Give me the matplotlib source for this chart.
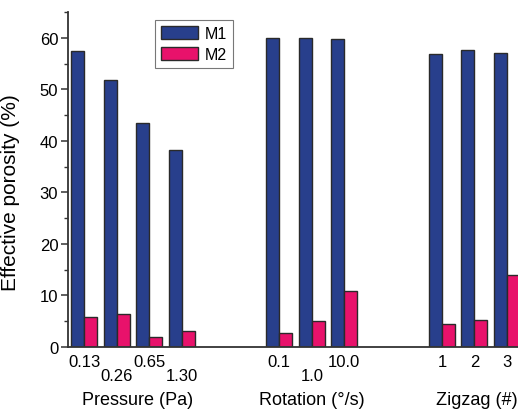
import matplotlib
matplotlib.use('Agg')
import matplotlib.pyplot as plt
from matplotlib.ticker import MultipleLocator

plt.rcParams['font.family'] = ['Liberation Sans', 'DejaVu Sans']

# data
positions = [0, 1, 2, 3, 6, 7, 8, 11, 12, 13]
tickLabels = ['0.13', '0.26', '0.65', '1.30', '0.1', '1.0', '10.0', '1', '2', '3']
lowerRow = [False, True, False, True, False, True, False, False, False, False]
m1 = [57.5, 51.9, 43.5, 38.3, 60.1, 60.1, 59.8, 56.9, 57.6, 57.1]
m2 = [5.7, 6.35, 1.8, 3.0, 2.7, 5.05, 10.8, 4.5, 5.2, 14.0]
groupNames = ['Pressure (Pa)', 'Rotation (\u00b0/s)', 'Zigzag (#)']
groupCenters = [1.65, 7.0, 12.07]

blue = '#283f8c'
pink = '#e8126b'
edge = '#2a2a2a'
width = 0.4

fig = plt.figure(figsize=(5.18, 4.10), dpi=100)
ax = fig.add_axes([68 / 518, 1 - 347.7 / 410, 1 - 68 / 518, (347.7 - 13.3) / 410])

barsM1 = ax.bar([p - width / 2 for p in positions], m1, width, color=blue,
                edgecolor=edge, linewidth=1.0, label='M1')
barsM2 = ax.bar([p + width / 2 for p in positions], m2, width, color=pink,
                edgecolor=edge, linewidth=1.0, label='M2')

ax.set_xlim(-0.5, 13.34)
ax.set_ylim(0, 65)

for side in ['top', 'right']:
    ax.spines[side].set_visible(False)
for side in ['left', 'bottom']:
    ax.spines[side].set_linewidth(1.3)
    ax.spines[side].set_color('#333333')

ax.yaxis.set_major_locator(MultipleLocator(10))
ax.yaxis.set_minor_locator(MultipleLocator(5))
ax.tick_params(axis='y', which='major', length=5, width=1.1, labelsize=12,
               color='#333333', pad=2)
ax.tick_params(axis='y', which='minor', length=3, width=1.0, color='#333333')

ax.set_xticks(positions)
ax.set_xticklabels(tickLabels)
ax.tick_params(axis='x', length=0, labelsize=12)
for tick, low in zip(ax.xaxis.get_major_ticks(), lowerRow):
    tick.set_pad(15.5 if low else 5)

for name, c in zip(groupNames, groupCenters):
    ax.text(c, -0.157, name, transform=ax.get_xaxis_transform(),
            ha='center', va='center', fontsize=13)

ax.set_ylabel('Effective porosity (%)', fontsize=15)
ax.yaxis.set_label_coords(-0.106, 0.464)

leg = fig.legend(handles=[barsM1, barsM2], loc='upper left',
                 bbox_to_anchor=(155 / 518, 1 - 21 / 410), fontsize=11.5,
                 frameon=True, fancybox=False, shadow=False,
                 handlelength=2.3, handleheight=0.85, handletextpad=0.4,
                 labelspacing=0.35, borderpad=0.4, borderaxespad=0)
leg.get_frame().set_edgecolor('#555555')
leg.get_frame().set_linewidth(0.8)

fig.savefig('out.png', dpi=100)
